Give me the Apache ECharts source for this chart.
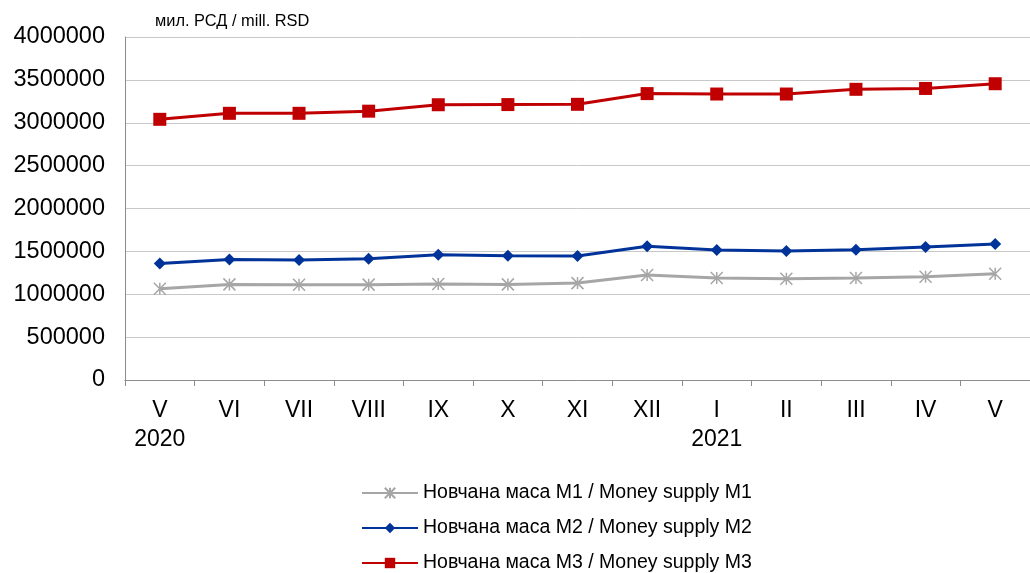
<!DOCTYPE html>
<html>
<head>
<meta charset="utf-8">
<script src="https://cdn.jsdelivr.net/npm/echarts@6/dist/echarts.min.js"></script>
<style>
  html, body { margin: 0; padding: 0; background: #fff; }
  #main { width: 1030px; height: 573px; }
</style>
</head>
<body>
<div id="main"></div>
<script>
// months and the year written under some of them
var months = ['V', 'VI', 'VII', 'VIII', 'IX', 'X', 'XI', 'XII', 'I', 'II', 'III', 'IV', 'V'];
var years = ['2020', '', '', '', '', '', '', '', '2021', '', '', '', ''];

var m1 = [1065000, 1115000, 1110000, 1112000, 1120000, 1115000, 1130000, 1225000, 1190000, 1180000, 1190000, 1205000, 1240000];
var m2 = [1360000, 1405000, 1400000, 1415000, 1460000, 1450000, 1445000, 1560000, 1515000, 1505000, 1518000, 1550000, 1585000];
var m3 = [3040000, 3110000, 3110000, 3135000, 3210000, 3212000, 3215000, 3340000, 3335000, 3335000, 3390000, 3400000, 3455000];

var yTicks = [0, 500000, 1000000, 1500000, 2000000, 2500000, 3000000, 3500000, 4000000];

var names = [
  'Новчана маса М1 / Money supply M1',
  'Новчана маса М2 / Money supply M2',
  'Новчана маса М3 / Money supply M3'
];

var star = 'path://M5,0L5,10M0,0L10,10M10,0L0,10';

var chart = echarts.init(document.getElementById('main'));
chart.setOption({
  animation: false,
  textStyle: { fontFamily: 'Liberation Sans, Arial, sans-serif' },
  grid: { left: 125, top: 37, width: 914, height: 343 },
  legend: {
    orient: 'vertical',
    left: 356,
    top: 478,
    height: 200,
    itemWidth: 56,
    itemHeight: 13,
    itemGap: 15,
    textStyle: { fontSize: 19.5, color: '#000' },
    data: names
  },
  xAxis: {
    type: 'category',
    data: months,
    boundaryGap: true,
    axisLine: { lineStyle: { color: '#8c8c8c', width: 1 } },
    axisTick: { show: true, length: 6, lineStyle: { color: '#8c8c8c' } },
    axisLabel: {
      margin: 16,
      fontSize: 23,
      color: '#000',
      lineHeight: 29,
      formatter: function (v, i) {
        return years[i] ? v + '\n' + years[i] : v;
      }
    }
  },
  yAxis: {
    type: 'value',
    min: yTicks[0],
    max: yTicks[yTicks.length - 1],
    interval: 500000,
    name: 'мил. РСД / mill. RSD',
    nameLocation: 'end',
    nameGap: 8,
    nameTextStyle: { fontSize: 16.4, color: '#000', align: 'left', padding: [0, 0, 0, 30] },
    axisLine: { show: true, lineStyle: { color: '#8c8c8c' } },
    axisTick: { show: false },
    splitLine: { lineStyle: { color: '#c8c8c8' } },
    axisLabel: {
      fontSize: 23.5,
      color: '#000',
      margin: 20,
      formatter: function (v) { return String(v); }
    }
  },
  series: [
    {
      name: names[0],
      type: 'line',
      data: m1,
      symbol: star,
      symbolSize: 12,
      lineStyle: { color: '#a6a6a6', width: 3 },
      itemStyle: { color: '#a6a6a6', borderColor: '#a6a6a6', borderWidth: 1.5 }
    },
    {
      name: names[1],
      type: 'line',
      data: m2,
      symbol: 'diamond',
      symbolSize: 12,
      lineStyle: { color: '#003399', width: 3 },
      itemStyle: { color: '#003399' }
    },
    {
      name: names[2],
      type: 'line',
      data: m3,
      symbol: 'rect',
      symbolSize: 13,
      lineStyle: { color: '#c00000', width: 3 },
      itemStyle: { color: '#c00000' }
    }
  ]
});
</script>
</body>
</html>
